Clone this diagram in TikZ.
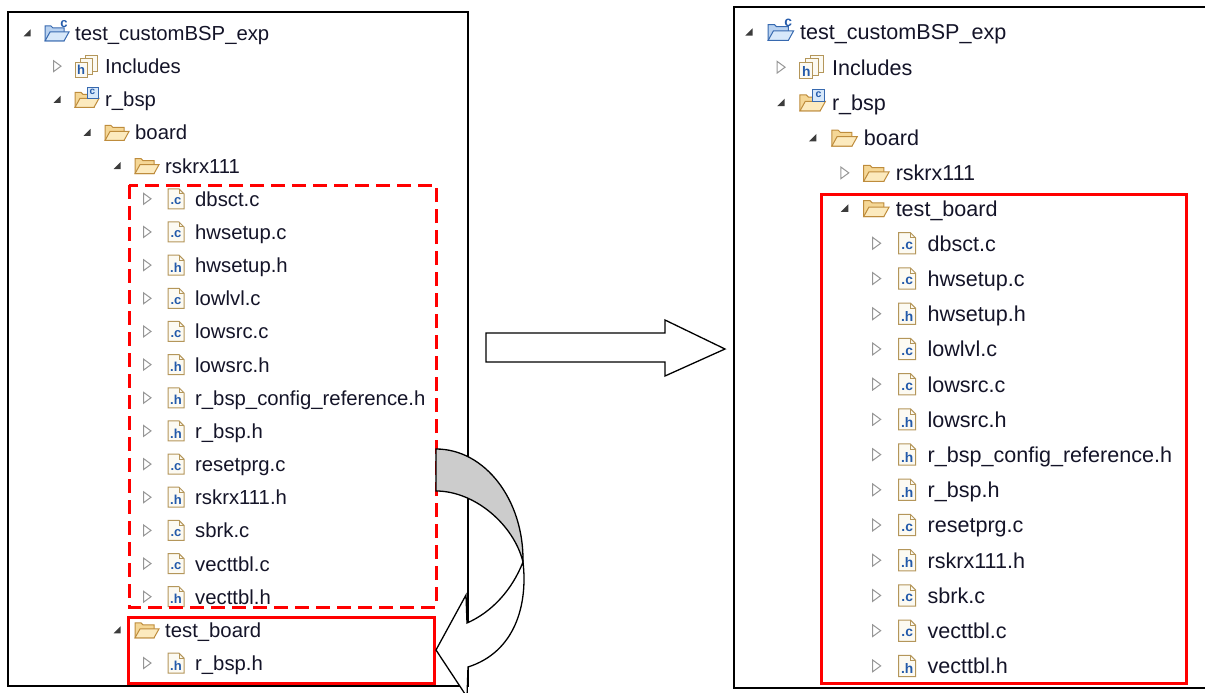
\documentclass[tikz,border=0pt]{standalone}
\usepackage{fontspec}
\setmainfont{Liberation Sans}

\definecolor{treetext}{RGB}{20,20,40}
\definecolor{marksoft}{RGB}{150,150,150}
\definecolor{markdark}{RGB}{60,60,60}
\definecolor{foldfill}{RGB}{245,215,150}
\definecolor{foldlite}{RGB}{252,234,190}
\definecolor{foldline}{RGB}{190,140,60}
\definecolor{projfill}{RGB}{185,210,240}
\definecolor{projlite}{RGB}{215,232,250}
\definecolor{projline}{RGB}{55,105,175}
\definecolor{pagefill}{RGB}{252,250,242}
\definecolor{pageline}{RGB}{180,150,90}
\definecolor{letterblue}{RGB}{35,90,170}
\definecolor{boxred}{RGB}{255,0,0}
\definecolor{backgray}{RGB}{204,204,204}

\tikzset{
  entry/.style={anchor=base west, inner sep=0pt, text=treetext,
    font=\fontsize{20.3}{24}\selectfont, transform shape},
  badge/.style={inner sep=0pt, text=letterblue,
    font=\fontsize{13}{13}\selectfont\bfseries, transform shape},
  pagebox/.style={fill=pagefill, draw=pageline, line width=1pt},
  panel/.style={draw=black, line width=1.8pt},
  redbox/.style={draw=boxred, line width=3pt},
  blockarrow/.style={fill=white, draw=black, line width=1.3pt, line join=miter}
}

% expand marks
\newcommand{\markopen}[1]{\fill[markdark,shift={(#1)}] (3.5,-3.5) -- (3.5,3.5) -- (-3.5,3.5) -- cycle;}
\newcommand{\markshut}[1]{\draw[marksoft,line width=1pt,shift={(#1)}] (-3.5,-5.5) -- (4,0) -- (-3.5,5.5) -- cycle;}

% icons
\newcommand{\folder}[4]{\begin{scope}[shift={(#1)}]
  \filldraw[fill=#2,draw=#4,line width=1pt] (-11,8) -- (-11,-7) -- (-5,-7) -- (-3,-5) -- (8,-5) -- (8,8) -- cycle;
  \filldraw[fill=#3,draw=#4,line width=1pt] (-11,8) -- (-6,-1) -- (13,-1) -- (8,8) -- cycle;
\end{scope}}
\newcommand{\iconfold}[2]{\folder{#1}{foldfill}{foldlite}{foldline}}
\newcommand{\iconproj}[2]{\folder{#1}{projfill}{projlite}{projline}
  \begin{scope}[shift={(#1)}]\node[badge] (#2) at (8,-9) {c};\end{scope}}
\newcommand{\iconsrc}[2]{\folder{#1}{foldfill}{foldlite}{foldline}
  \begin{scope}[shift={(#1)}]
    \filldraw[fill=projlite,draw=projline,line width=1pt] (1,-12) rectangle (12,-1);
    \node[badge,font=\fontsize{10}{10}\selectfont\bfseries] (#2) at (6.5,-7) {c};
  \end{scope}}
\newcommand{\filepage}[3]{\begin{scope}[shift={(#1)}]
  \filldraw[pagebox] (-8,-10) -- (3,-10) -- (8,-5) -- (8,10) -- (-8,10) -- cycle;
  \draw[pageline,line width=1pt] (3,-10) -- (3,-5) -- (8,-5);
  \node[badge] (#2) at (0,2.5) {.#3};
\end{scope}}
\newcommand{\iconcfile}[2]{\filepage{#1}{#2}{c}}
\newcommand{\iconhfile}[2]{\filepage{#1}{#2}{h}}
\newcommand{\iconincl}[2]{\begin{scope}[shift={(#1)}]
  \filldraw[pagebox] (-1,-11) rectangle (11,5);
  \filldraw[pagebox] (-6,-8) rectangle (6,8);
  \filldraw[pagebox] (-11,-4) rectangle (1,11);
  \node[badge] (#2) at (-5,4) {h};
\end{scope}}

% one explorer tree: level/mark/icon/label
\newcommand{\filetree}[2]{%
  \foreach \lv/\mk/\ic/\txt [count=\i from 0] in {#2} {
    \pgfmathsetmacro{\ex}{27+30*\lv}
    \pgfmathsetmacro{\ry}{33+33.16*\i}
    \csname mark\mk\endcsname{\ex,\ry}
    \csname icon\ic\endcsname{\ex+29,\ry}{#1c\i}
    \node[entry] (#1t\i) at (\ex+48,\ry+7.5) {\txt};
  }}

\begin{document}
\begin{tikzpicture}[x=1pt, y=-1pt]
  \clip (0,0) rectangle (1205,693);

  \draw[panel] (8,12) rectangle (468,686);
  \filetree{L}{0/open/proj/test\_customBSP\_exp, 1/shut/incl/Includes,
    1/open/src/r\_bsp, 2/open/fold/board, 3/open/fold/rskrx111,
    4/shut/cfile/dbsct.c, 4/shut/cfile/hwsetup.c, 4/shut/hfile/hwsetup.h,
    4/shut/cfile/lowlvl.c, 4/shut/cfile/lowsrc.c, 4/shut/hfile/lowsrc.h,
    4/shut/hfile/r\_bsp\_config\_reference.h, 4/shut/hfile/r\_bsp.h,
    4/shut/cfile/resetprg.c, 4/shut/hfile/rskrx111.h, 4/shut/cfile/sbrk.c,
    4/shut/cfile/vecttbl.c, 4/shut/hfile/vecttbl.h,
    3/open/fold/test\_board, 4/shut/hfile/r\_bsp.h}
  \draw[redbox, dash pattern=on 14pt off 7pt] (129,185) rectangle (436,607);
  \draw[redbox] (128,617) rectangle (434,683);

  \draw[panel] (734,7) rectangle (1215,688);
  \begin{scope}[shift={(720.3,-3.05)}, scale=1.062]
    \filetree{R}{0/open/proj/test\_customBSP\_exp, 1/shut/incl/Includes,
      1/open/src/r\_bsp, 2/open/fold/board, 3/shut/fold/rskrx111,
      3/open/fold/test\_board,
      4/shut/cfile/dbsct.c, 4/shut/cfile/hwsetup.c, 4/shut/hfile/hwsetup.h,
      4/shut/cfile/lowlvl.c, 4/shut/cfile/lowsrc.c, 4/shut/hfile/lowsrc.h,
      4/shut/hfile/r\_bsp\_config\_reference.h, 4/shut/hfile/r\_bsp.h,
      4/shut/cfile/resetprg.c, 4/shut/hfile/rskrx111.h, 4/shut/cfile/sbrk.c,
      4/shut/cfile/vecttbl.c, 4/shut/hfile/vecttbl.h}
  \end{scope}
  \draw[redbox] (821,194) rectangle (1186,683);

  % moving arrows
  \draw[blockarrow] (486,333) -- (665,333) -- (665,320) -- (725,349)
    -- (665,376) -- (665,362) -- (486,362) -- cycle;
  \filldraw[blockarrow, fill=backgray] (436,449) .. controls (485,449) and (524,500) .. (523,562)
    .. controls (514,525) and (475,491) .. (436,491) -- cycle;
  \filldraw[blockarrow] (523,562) .. controls (528,605) and (515,652) .. (468,667)
    -- (467,697) -- (436,650) -- (466,595) -- (467,623)
    .. controls (492,612) and (512,590) .. (523,562) -- cycle;
\end{tikzpicture}
\end{document}
